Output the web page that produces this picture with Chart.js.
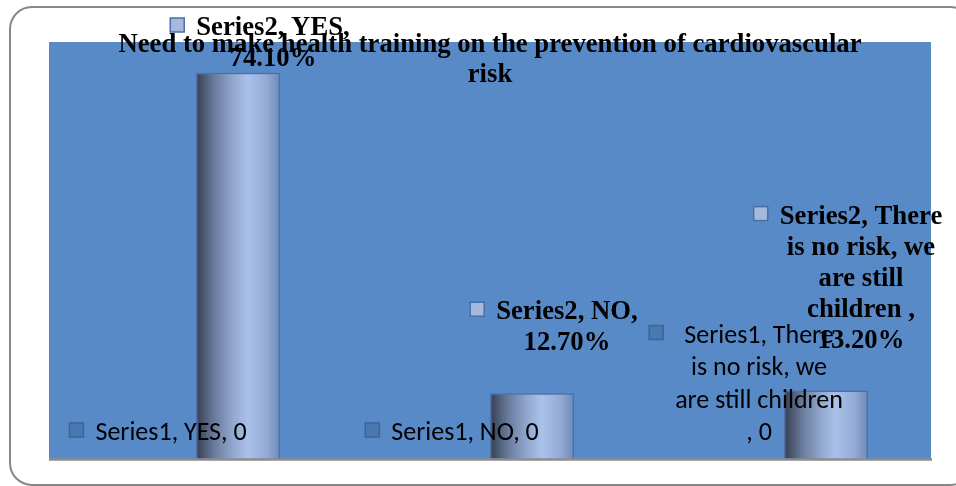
<!DOCTYPE html>
<html><head><meta charset="utf-8">
<script src="https://cdn.jsdelivr.net/npm/chart.js@4"></script>
<style>html,body{margin:0;padding:0;background:#fff}#wrap{width:956px;height:486px}</style>
</head><body><div id="wrap"><canvas id="c" width="956" height="486"></canvas></div>
<script>
const chartTitle = 'Need to make health training on the prevention of cardiovascular risk';
const categories = ['YES', 'NO', 'There is no risk, we are still children '];
const seriesNames = ['Series1', 'Series2'];
const series1Values = [0, 0, 0];
const series2Values = [74.1, 12.7, 13.2];
const yAxisRange = [0, 80];

const PLOT_BG = '#588AC7';
const SERIF_BOLD = 'bold 26.7px "Liberation Serif", "Times New Roman", serif';
const labelStyles = [
  { font: '26px Carlito, Calibri, Lato, sans-serif', lineH: 32.5, wrap: 170.5, off: 4, iconFill: '#4A78B0', iconStroke: '#3C6496', fmt: v => String(v) },
  { font: SERIF_BOLD, lineH: 31, wrap: 172, off: 22, iconFill: '#A6B8DC', iconStroke: '#4A6FA5', fmt: v => v.toFixed(2) + '%' }
];

function wrapText(ctx, text, maxW) {
  const words = text.split(' ').filter(w => w.length);
  const lines = [];
  let cur = '';
  for (const w of words) {
    const t = cur ? cur + ' ' + w : w;
    if (cur && ctx.measureText(t).width > maxW) { lines.push(cur); cur = w; } else cur = t;
  }
  if (cur) lines.push(cur);
  return lines;
}

const decor = {
  id: 'decor',
  beforeDraw(chart) {
    const { ctx, chartArea: a } = chart;
    ctx.save();
    ctx.fillStyle = '#fff';
    ctx.fillRect(0, 0, chart.width, chart.height);
    ctx.strokeStyle = '#878787';
    ctx.lineWidth = 2;
    ctx.beginPath();
    ctx.roundRect(10, 7, 962, 478, 22);
    ctx.stroke();
    ctx.fillStyle = PLOT_BG;
    ctx.fillRect(a.left, a.top, a.right - a.left, a.bottom - a.top);
    ctx.restore();
  },
  beforeDatasetsDraw(chart) {
    const ctx = chart.ctx;
    chart.data.datasets.forEach((ds, di) => {
      const meta = chart.getDatasetMeta(di);
      meta.data.forEach(el => {
        const l = el.x - el.width / 2, r = el.x + el.width / 2;
        const g = ctx.createLinearGradient(l, 0, r, 0);
        g.addColorStop(0, '#353D50');
        g.addColorStop(0.22, '#6A7C9E');
        g.addColorStop(0.45, '#93A9D0');
        g.addColorStop(0.62, '#AAC2EA');
        g.addColorStop(0.85, '#92A9D4');
        g.addColorStop(1, '#7088B6');
        el.options.backgroundColor = g;
      });
    });
  },
  afterDatasetsDraw(chart) {
    const { ctx, chartArea: a, scales } = chart;
    const y0 = scales.y.getPixelForValue(0);
    ctx.save();
    ctx.strokeStyle = '#8C8C8C';
    ctx.lineWidth = 2.5;
    ctx.beginPath();
    ctx.moveTo(a.left, y0);
    ctx.lineTo(a.right + 1, y0);
    ctx.stroke();

    chart.data.datasets.forEach((ds, di) => {
      const st = labelStyles[di];
      const meta = chart.getDatasetMeta(di);
      ctx.font = st.font;
      meta.data.forEach((el, i) => {
        const txt = seriesNames[di] + ', ' + categories[i] + ', ' + st.fmt(ds.data[i]);
        const lines = wrapText(ctx, txt, st.wrap);
        const W = Math.max(...lines.map(s => ctx.measureText(s).width));
        const groupW = 14 + 12 + W;
        const gLeft = el.x + st.off - groupW / 2;
        const textCx = gLeft + 26 + W / 2;
        const lastBase = di === 0 ? y0 - 19.5 : el.y - 43;
        let firstBase = lastBase - (lines.length - 1) * st.lineH;
        if (firstBase < 35) firstBase = 35;
        ctx.fillStyle = '#000';
        ctx.textAlign = 'center';
        ctx.textBaseline = 'alphabetic';
        lines.forEach((s, k) => ctx.fillText(s, textCx, firstBase + k * st.lineH));
        ctx.fillStyle = st.iconFill;
        ctx.strokeStyle = st.iconStroke;
        ctx.lineWidth = 1.5;
        ctx.fillRect(gLeft, firstBase - 17, 14, 14);
        ctx.strokeRect(gLeft, firstBase - 17, 14, 14);
      });
    });
    ctx.restore();
  },
  afterDraw(chart) {
    const { ctx, chartArea: a } = chart;
    ctx.save();
    ctx.font = SERIF_BOLD;
    ctx.fillStyle = '#000';
    ctx.textAlign = 'center';
    ctx.textBaseline = 'alphabetic';
    const lines = wrapText(ctx, chartTitle, 770);
    const cx = (a.left + a.right) / 2;
    lines.forEach((s, k) => ctx.fillText(s, cx, 52 + k * 30));
    ctx.restore();
  }
};

new Chart(document.getElementById('c'), {
  type: 'bar',
  data: {
    labels: categories,
    datasets: [
      { label: seriesNames[0], data: series1Values, backgroundColor: () => '#4A78B0', borderColor: '#4A6FA5', borderWidth: 1.5, categoryPercentage: 0.571, barPercentage: 1.0 },
      { label: seriesNames[1], data: series2Values, backgroundColor: () => '#A6B8DC', borderColor: '#4B6EA6', borderWidth: 1.5, categoryPercentage: 0.571, barPercentage: 1.0 }
    ]
  },
  options: {
    responsive: false,
    animation: false,
    devicePixelRatio: 1,
    layout: { padding: { left: 49, right: 25, top: 42, bottom: 26.5 } },
    plugins: { legend: { display: false }, title: { display: false }, tooltip: { enabled: false } },
    scales: {
      x: { display: false },
      y: { display: false, min: yAxisRange[0], max: yAxisRange[1] }
    }
  },
  plugins: [decor]
});
</script></body></html>
